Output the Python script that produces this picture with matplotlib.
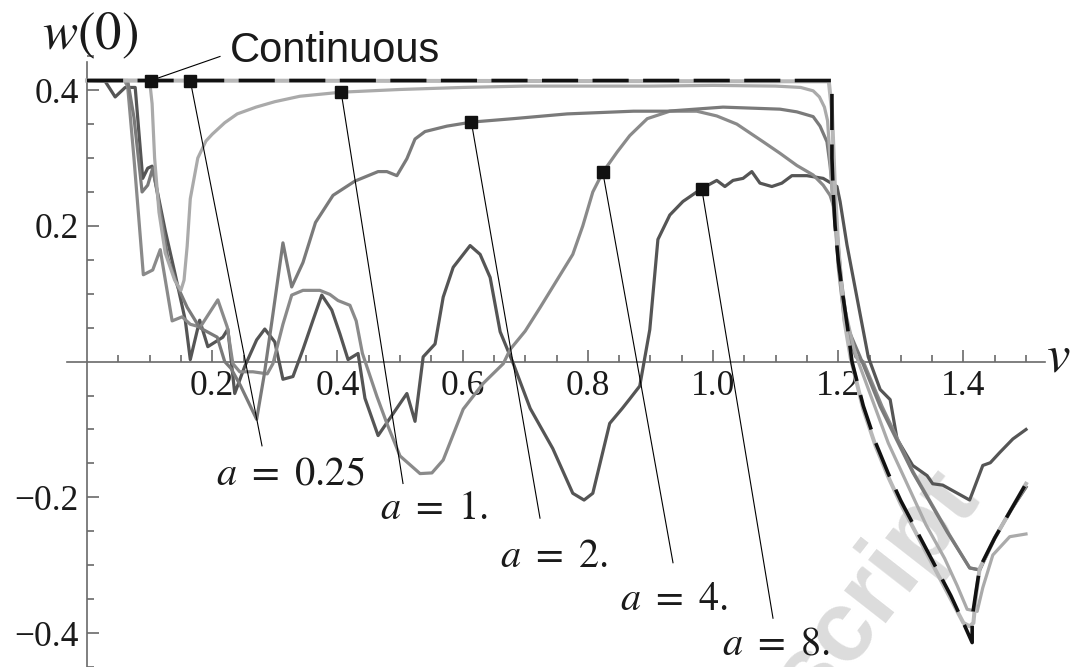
import numpy as np
import matplotlib
matplotlib.use("Agg")
import matplotlib.pyplot as plt

plt.rcParams['mathtext.fontset'] = 'stix'

# ---------------- data ----------------
cont_v = [0.0, 1.19, 1.19, 1.192, 1.195, 1.2, 1.207, 1.215, 1.222, 1.24, 1.26, 1.28, 1.30, 1.32,
          1.34, 1.36, 1.38, 1.40, 1.414, 1.414, 1.42, 1.426, 1.45, 1.475, 1.5]
cont_w = [0.4142, 0.4142, 0.30, 0.25, 0.20, 0.15, 0.10, 0.05, 0.0, -0.065, -0.12, -0.165, -0.205, -0.24,
          -0.275, -0.31, -0.345, -0.385, -0.414, -0.377, -0.34, -0.304, -0.26, -0.22, -0.18]

a025_v = [0.0, 1.185, 1.19, 1.195, 1.2, 1.21, 1.22, 1.24, 1.26, 1.28, 1.30, 1.32, 1.34, 1.36, 1.38,
          1.40, 1.41, 1.416, 1.42, 1.426, 1.45, 1.475, 1.5]
a025_w = [0.4142, 0.413, 0.37, 0.25, 0.17, 0.06, 0.005, -0.07, -0.125, -0.17, -0.21, -0.245, -0.28, -0.315, -0.35,
          -0.385, -0.39, -0.385, -0.345, -0.305, -0.26, -0.22, -0.18]

a1_v = [0.0, 0.10, 0.104, 0.108, 0.115, 0.125, 0.14, 0.15, 0.155, 0.16, 0.165, 0.177, 0.19, 0.2, 0.22,
        0.24, 0.27, 0.3, 0.34, 0.406, 0.5, 0.6, 0.7, 0.8, 0.9, 1.0, 1.1, 1.14, 1.16, 1.17, 1.178, 1.183,
        1.187, 1.19, 1.195, 1.2, 1.21, 1.225, 1.232, 1.25, 1.28, 1.31, 1.34, 1.37, 1.39, 1.406, 1.422,
        1.431, 1.447, 1.474, 1.5]
a1_w = [0.4142, 0.4142, 0.38, 0.30, 0.22, 0.16, 0.12, 0.105, 0.12, 0.17, 0.24, 0.30, 0.325, 0.335, 0.352,
        0.365, 0.375, 0.383, 0.391, 0.397, 0.401, 0.404, 0.406, 0.406, 0.406, 0.407, 0.406, 0.404, 0.399,
        0.39, 0.375, 0.355, 0.30, 0.25, 0.20, 0.15, 0.08, 0.02, 0.0, -0.045, -0.12, -0.18, -0.24, -0.29,
        -0.33, -0.365, -0.368, -0.333, -0.285, -0.258, -0.254]

a2_v = [0.0, 0.065, 0.075, 0.088, 0.097, 0.105, 0.112, 0.129, 0.145, 0.16, 0.18, 0.2, 0.208, 0.22, 0.23,
        0.245, 0.258, 0.271, 0.283, 0.297, 0.313, 0.327, 0.345, 0.365, 0.393, 0.428, 0.465, 0.479, 0.495,
        0.511, 0.524, 0.54, 0.575, 0.615, 0.681, 0.767, 0.873, 0.927, 1.016, 1.107, 1.134, 1.16, 1.171,
        1.182, 1.187, 1.192, 1.198, 1.205, 1.215, 1.235, 1.267, 1.319, 1.374, 1.41, 1.426, 1.45, 1.475, 1.5]
a2_w = [0.4142, 0.4142, 0.36, 0.25, 0.26, 0.285, 0.25, 0.153, 0.11, 0.08, 0.05, 0.04, 0.036, 0.0, -0.01,
        -0.035, -0.06, -0.085, -0.02, 0.07, 0.175, 0.11, 0.146, 0.205, 0.245, 0.266, 0.28, 0.28, 0.274,
        0.299, 0.328, 0.339, 0.347, 0.353, 0.358, 0.365, 0.369, 0.369, 0.375, 0.372, 0.368, 0.361, 0.347,
        0.324, 0.289, 0.241, 0.193, 0.12, 0.05, 0.007, -0.066, -0.163, -0.251, -0.304, -0.307, -0.26, -0.22, -0.185]

a4_v = [0.0, 0.06, 0.065, 0.075, 0.09, 0.105, 0.117, 0.136, 0.152, 0.165, 0.181, 0.209, 0.224, 0.233,
        0.244, 0.265, 0.288, 0.297, 0.313, 0.327, 0.345, 0.372, 0.388, 0.401, 0.42, 0.43, 0.44, 0.463,
        0.479, 0.5, 0.532, 0.551, 0.569, 0.601, 0.633, 0.665, 0.676, 0.70, 0.724, 0.776, 0.792, 0.808,
        0.824, 0.847, 0.867, 0.895, 0.931, 0.974, 1.006, 1.038, 1.08, 1.107, 1.134, 1.16, 1.176, 1.187,
        1.195, 1.2, 1.21, 1.228, 1.24, 1.27, 1.32, 1.375, 1.41, 1.426, 1.45, 1.475, 1.5]
a4_w = [0.4142, 0.4142, 0.405, 0.30, 0.128, 0.135, 0.165, 0.06, 0.066, 0.055, 0.051, 0.091, 0.051, -0.003,
        -0.015, -0.015, -0.018, -0.003, 0.055, 0.098, 0.105, 0.105, 0.099, 0.09, 0.083, 0.06, 0.012, -0.051,
        -0.091, -0.139, -0.165, -0.164, -0.145, -0.07, -0.032, -0.003, 0.018, 0.045, 0.08, 0.158, 0.20, 0.25,
        0.279, 0.309, 0.333, 0.358, 0.369, 0.369, 0.362, 0.35, 0.324, 0.307, 0.289, 0.275, 0.260, 0.245,
        0.222, 0.14, 0.06, 0.007, 0.0, -0.066, -0.163, -0.251, -0.304, -0.307, -0.26, -0.22, -0.185]

a8_v = [0.0, 0.029, 0.045, 0.061, 0.077, 0.089, 0.097, 0.104, 0.109, 0.125, 0.141, 0.157, 0.165, 0.18,
        0.193, 0.217, 0.225, 0.236, 0.252, 0.271, 0.284, 0.3, 0.313, 0.329, 0.345, 0.361, 0.375, 0.391,
        0.404, 0.417, 0.433, 0.444, 0.465, 0.511, 0.524, 0.537, 0.556, 0.569, 0.585, 0.612, 0.628, 0.644,
        0.660, 0.681, 0.708, 0.744, 0.776, 0.794, 0.808, 0.835, 0.855, 0.867, 0.883, 0.899, 0.912, 0.931,
        0.952, 0.982, 1.006, 1.019, 1.032, 1.048, 1.062, 1.075, 1.094, 1.110, 1.126, 1.150, 1.176, 1.198,
        1.203, 1.214, 1.235, 1.248, 1.267, 1.283, 1.294, 1.319, 1.342, 1.351, 1.367, 1.41, 1.431, 1.443,
        1.458, 1.479, 1.5]
a8_w = [0.4142, 0.413, 0.39, 0.404, 0.404, 0.27, 0.285, 0.288, 0.266, 0.193, 0.128, 0.061, 0.003, 0.061,
        0.022, 0.036, 0.048, -0.047, -0.007, 0.032, 0.048, 0.029, -0.026, -0.022, 0.018, 0.061, 0.098, 0.076,
        0.041, 0.003, 0.012, -0.054, -0.109, -0.047, -0.088, 0.007, 0.026, 0.095, 0.139, 0.171, 0.158, 0.124,
        0.044, -0.003, -0.069, -0.128, -0.194, -0.204, -0.194, -0.091, -0.069, -0.055, -0.036, 0.047, 0.180, 0.216,
        0.236, 0.255, 0.267, 0.258, 0.267, 0.270, 0.280, 0.263, 0.258, 0.263, 0.274, 0.274, 0.270, 0.258,
        0.236, 0.172, 0.07, 0.007, -0.041, -0.056, -0.114, -0.153, -0.168, -0.18, -0.182, -0.204, -0.153, -0.149,
        -0.134, -0.114, -0.10]

labels = ["Continuous", r"$a\ =\ 0.25$", r"$a\ =\ 1.$", r"$a\ =\ 2.$", r"$a\ =\ 4.$", r"$a\ =\ 8.$"]
marker_v = [0.102, 0.165, 0.406, 0.614, 0.824, 0.982]

x_major = [0.2, 0.4, 0.6, 0.8, 1.0, 1.2, 1.4]
y_major = [-0.4, -0.2, 0.2, 0.4]

# ---------------- figure ----------------
W, H = 1077, 667
fig = plt.figure(figsize=(W / 100, H / 100), dpi=100)
ax = fig.add_axes([0, 0, 1, 1])
X0, XS = 87.0, 626.0     # pixel of v=0, pixels per unit
Y0, YS = 365.0, 685.0    # pixel of w=0, pixels per unit
ax.set_xlim(-X0 / XS, (W - X0) / XS)
ax.set_ylim((Y0 - H) / YS, Y0 / YS)


def P(px, py):
    return ((px - X0) / XS, (Y0 - py) / YS)


# axes through origin
for s in ['top', 'right']:
    ax.spines[s].set_visible(False)
ax.spines['left'].set_position(('data', 0))
ax.spines['bottom'].set_position(('data', 0))
ax.spines['bottom'].set_bounds(P(67, 0)[0], P(1045, 0)[0])
ax.spines['left'].set_bounds(P(0, 700)[1], P(0, 63)[1])
axcol = '#6a6a6a'
for s in ['left', 'bottom']:
    ax.spines[s].set_color(axcol)
    ax.spines[s].set_linewidth(1.2)
    ax.spines[s].set_zorder(1)
ax.set_xticks(x_major)
ax.set_xticklabels(['%.1f' % t for t in x_major])
ax.set_xticks(np.arange(0.05, 1.51, 0.05), minor=True)
ax.set_yticks(y_major)
ax.set_yticklabels([('\u2212%.1f' % -t) if t < 0 else '%.1f' % t for t in y_major])
ax.set_yticks([t for t in np.arange(-0.45, 0.451, 0.05) if abs(t) > 1e-9], minor=True)
ax.tick_params(which='both', direction='in', color=axcol, width=1.2)
ax.tick_params(which='major', length=8.5)
ax.tick_params(which='minor', length=5)
ax.tick_params(axis='x', which='major', pad=6)
ax.tick_params(axis='y', which='major', pad=6)
for lab in ax.get_xticklabels() + ax.get_yticklabels():
    lab.set_fontfamily('Liberation Serif')
    lab.set_fontsize(25.5)
    lab.set_color('#1a1a1a')

# watermark
ax.text(*P(922, 455), "Manuscript", rotation=52, ha='right', va='top', fontsize=72,
        fontweight='bold', color='#dcdcdc', family='Liberation Sans', zorder=0,
        rotation_mode='anchor', clip_on=True)

# curves
lw = 2.3
ax.plot(a8_v, a8_w, color='#555555', lw=lw, zorder=3)
ax.plot(a4_v, a4_w, color='#8a8a8a', lw=lw, zorder=3)
ax.plot(a2_v, a2_w, color='#7a7a7a', lw=lw, zorder=3)
ax.plot(a1_v, a1_w, color='#aaaaaa', lw=lw, zorder=3)
ax.plot(a025_v, a025_w, color='#b8b8b8', lw=lw + 0.6, zorder=4)
ax.plot(cont_v, cont_w, color='#111111', lw=2.6, dashes=(10, 4), zorder=5)

# leader lines, markers, labels
series = [(cont_v, cont_w), (a025_v, a025_w), (a1_v, a1_w), (a2_v, a2_w), (a4_v, a4_w), (a8_v, a8_w)]
line_end = [P(220, 57), P(262, 450), P(403, 488), P(540, 523), P(673, 568), P(773, 624)]
text_pos = [P(230, 63), P(216, 489), P(380, 524), P(500, 572), P(620, 616), P(722, 661)]
for (sv, sw), mv, le, tp, lab in zip(series, marker_v, line_end, text_pos, labels):
    mw = float(np.interp(mv, sv, sw))
    ax.plot([mv, le[0]], [mw, le[1]], color='black', lw=0.8, zorder=6)
    ax.plot([mv], [mw], marker='s', ms=8, color='#111111', zorder=7, ls='none')
    if lab == "Continuous":
        ax.text(tp[0], tp[1], lab, family='Liberation Sans', fontsize=30, ha='left', va='baseline',
                color='#1a1a1a', zorder=8)
    else:
        ax.text(tp[0], tp[1], lab, fontsize=29, ha='left', va='baseline', color='#1a1a1a', zorder=8)

ax.text(*P(42, 50), r"$w(0)$", fontsize=38, ha='left', va='baseline', color='#1a1a1a')
ax.text(*P(1046, 375), r"$v$", fontsize=38, ha='left', va='baseline', color='#1a1a1a')

fig.savefig("out.png", dpi=100)
